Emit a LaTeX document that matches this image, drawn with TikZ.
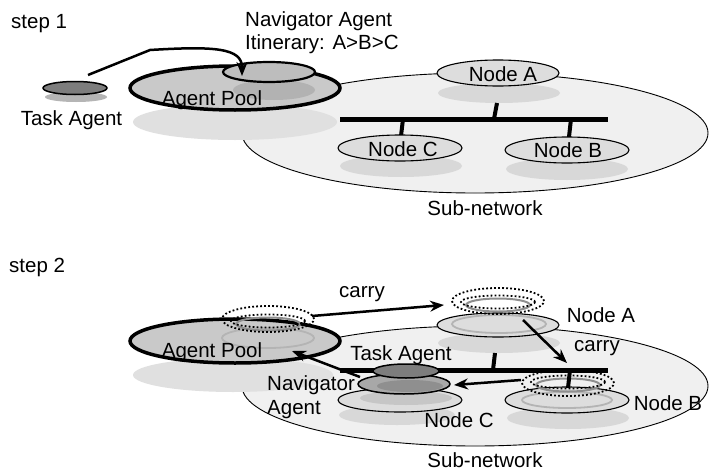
\documentclass[tikz,border=0pt]{standalone}
\usepackage{fontspec}
\setmainfont{Liberation Sans}
\usetikzlibrary{shapes.geometric,arrows.meta}
\definecolor{subfill}{HTML}{F0F0F0}
\definecolor{nodefill}{HTML}{DDDDDD}
\definecolor{nodeshadow}{HTML}{D8D8D8}
\definecolor{poolfill}{HTML}{C9C9C9}
\definecolor{poolshadow}{HTML}{E0E0E0}
\definecolor{navfill}{HTML}{BDBDBD}
\definecolor{navshadow}{HTML}{B2B2B2}
\definecolor{navfilltwo}{HTML}{A8A8A8}
\definecolor{navshadowtwo}{HTML}{C6C6C6}
\definecolor{taskfill}{HTML}{7D7D7D}
\definecolor{taskshadow}{HTML}{B5B5B5}
\definecolor{taskshadowtwo}{HTML}{8F8F8F}
\definecolor{ringgray}{HTML}{8E8E8E}
\definecolor{ghostgray}{HTML}{B4B4B4}
\begin{document}
\begin{tikzpicture}[x=1pt,y=-1pt,
  font=\fontsize{20.5}{24}\selectfont,
  ell/.style n args={2}{ellipse, inner sep=0pt, outer sep=0pt, minimum width={2*#1}, minimum height={2*#2}},
  subnet/.style={draw=black, line width=0.9pt, fill=subfill},
  netnode/.style={draw=black, line width=1.1pt, fill=nodefill},
  nshadow/.style={fill=nodeshadow},
  pool/.style={draw=black, line width=3.5pt, fill=poolfill},
  pshadow/.style={fill=poolshadow},
  nav/.style={draw=black, line width=2.2pt, fill=navfill},
  navtwo/.style={draw=black, line width=1.5pt, fill=navfilltwo},
  task/.style={draw=black, line width=1.5pt, fill=taskfill},
  ring/.style={draw=ringgray, line width=2pt},
  fring/.style={draw=ghostgray, line width=1.8pt},
  dots/.style={draw=black, line width=1.8pt, dash pattern=on 1.8pt off 2.2pt},
  bus/.style={line width=5pt},
  stub/.style={line width=4pt},
  arr/.style={line width=2.5pt, -{Stealth[length=14pt,width=11pt]}},
  lbl/.style={anchor=base, inner sep=0pt},
  lblw/.style={anchor=base west, inner sep=0pt}]
\useasboundingbox (0,0) rectangle (710,474);
\fill[white] (0,0) rectangle (710,474);

% ================= STEP 1 =================
\node[lblw] (st1) at (11,28) {step 1};
\node[ell={233}{60}, subnet] (sub1) at (475,133) {};
\node[ell={61}{10}, nshadow] (shA1) at (499,93) {};
\node[ell={61}{11}, nshadow] (shC1) at (401,166) {};
\node[ell={61}{11}, nshadow] (shB1) at (567,169) {};
\coordinate (busL1) at (340,119);
\coordinate (busR1) at (608,119);
\coordinate (stA1t) at (497,103);
\coordinate (stA1b) at (494,119);
\coordinate (stC1t) at (403,119);
\coordinate (stC1b) at (401,136);
\coordinate (stB1t) at (571,119);
\coordinate (stB1b) at (569,137);
\draw[bus] (busL1) -- (busR1);
\draw[stub] (stA1t) -- (stA1b);
\draw[stub] (stC1t) -- (stC1b);
\draw[stub] (stB1t) -- (stB1b);
\node[ell={61}{13}, netnode] (nA1) at (498,73) {};
\node[ell={62}{13}, netnode] (nC1) at (400,148) {};
\node[ell={62}{13}, netnode] (nB1) at (567,150) {};
\node[lbl] (tA1) at (503,81) {Node A};
\node[lbl] (tC1) at (403,156) {Node C};
\node[lbl] (tB1) at (568,157) {Node B};
\node[lbl] (tsub1) at (485,215) {Sub-network};
% agent pool
\node[ell={102}{18}, pshadow] (psh1) at (235,122) {};
\node[ell={105}{22}, pool] (pool1) at (235,88) {};
\node[ell={41}{10}, fill=navshadow] (navsh1) at (274,90) {};
\node[ell={46}{10}, nav] (nav1) at (269,72) {};
\node[lbl] (tpool1) at (212,105) {Agent Pool};
% task agent
\node[ell={31}{5}, fill=taskshadow] (tsh1) at (76,97) {};
\node[ell={32}{6.5}, task] (task1) at (75,88) {};
\node[lbl] (ttask1) at (71.5,125) {Task Agent};
\node[lblw] (tnav1) at (245,26) {Navigator Agent};
\node[lblw] (titin) at (245,49) {Itinerary: A>B>C};
\coordinate (a1s) at (88,75);
\coordinate (a1k) at (150,50);
\coordinate (a1e) at (242,76);
\draw[arr] (a1s) -- (a1k) .. controls (215,46) and (242,48) .. (a1e);

% ================= STEP 2 =================
\node[lblw] (st2) at (9,272) {step 2};
\node[ell={233}{60}, subnet] (sub2) at (475,386) {};
\node[ell={61}{10}, nshadow] (shA2) at (499,343) {};
\node[ell={61}{11}, nshadow] (shB2) at (568,418) {};
\node[ell={58}{10}, nshadow] (shC2) at (397,415) {};
\node[ell={61}{12}, netnode] (nA2) at (498,325) {};
\node[ell={47}{9}, fring] (rA2) at (499,324) {};
\node[ell={62}{13}, netnode] (nB2) at (567,400) {};
\node[ell={45}{8}, fring] (rB2) at (567,400) {};
\node[ell={62}{12}, netnode] (nC2) at (400,400) {};
\node[ell={46}{7}, fill=navshadowtwo] (nsC2) at (406,398) {};
\coordinate (busL2) at (340,370);
\coordinate (busR2) at (608,370);
\coordinate (stA2t) at (495,353);
\coordinate (stA2b) at (493,370);
\coordinate (stB2t) at (570,370);
\coordinate (stB2b) at (568,388);
\draw[bus] (busL2) -- (busR2);
\draw[stub] (stA2t) -- (stA2b);
% agent pool step 2
\node[ell={100}{17}, pshadow] (psh2) at (233,375) {};
\node[ell={105}{22}, pool] (pool2) at (235,341) {};
\node[ell={46}{10}, fring] (gP2) at (268,338) {};
% bubbles
\node[ell={32}{6.5}, ring] (rP2) at (268,324) {};
\node[ell={37}{6.5}, dots] (iP2) at (268,321) {};
\node[ell={46}{13}, dots] (oP2) at (268,319) {};
\node[ell={32}{6.5}, ring] (rA2b) at (498,305) {};
\node[ell={37}{6.5}, dots] (iA2) at (498,302) {};
\node[ell={46}{13}, dots] (oA2) at (498,301) {};
\node[ell={32}{6.5}, ring] (rB2b) at (568,385) {};
\node[ell={37}{6.5}, dots] (iB2) at (568,382) {};
\node[ell={46}{13}, dots] (oB2) at (568,383) {};
\draw[stub] (stB2t) -- (stB2b);
% navigator and task agent on Node C
\node[ell={46}{10}, navtwo] (nav2) at (404,384) {};
\node[ell={33}{6}, fill=taskshadowtwo] (tsh2) at (410,386) {};
\node[ell={33}{7}, task] (task2) at (406,371) {};
% labels step 2
\node[lbl] (tpool2) at (212,357) {Agent Pool};
\node[lbl] (tA2) at (601,322) {Node A};
\node[lbl] (tB2) at (668,410) {Node B};
\node[lbl] (tC2) at (459,427) {Node C};
\node[lbl] (ttask2) at (401,360) {Task Agent};
\node[lblw] (tnav2a) at (267,390) {Navigator};
\node[lblw] (tnav2b) at (267,414) {Agent};
\node[lbl] (tcarry1) at (362,297) {carry};
\node[lbl] (tcarry2) at (597,351) {carry};
\node[lbl] (tsub2) at (485,467) {Sub-network};
% arrows step 2
\coordinate (c1s) at (312,316);
\coordinate (c1e) at (444,305);
\coordinate (c2s) at (523,320);
\coordinate (c2e) at (567,363);
\coordinate (c3s) at (521,380);
\coordinate (c3e) at (454,385);
\coordinate (c4s) at (360,377);
\coordinate (c4e) at (292,351);
\draw[arr] (c1s) -- (c1e);
\draw[arr] (c2s) -- (c2e);
\draw[arr] (c3s) -- (c3e);
\draw[arr] (c4s) -- (c4e);
\end{tikzpicture}
\end{document}
